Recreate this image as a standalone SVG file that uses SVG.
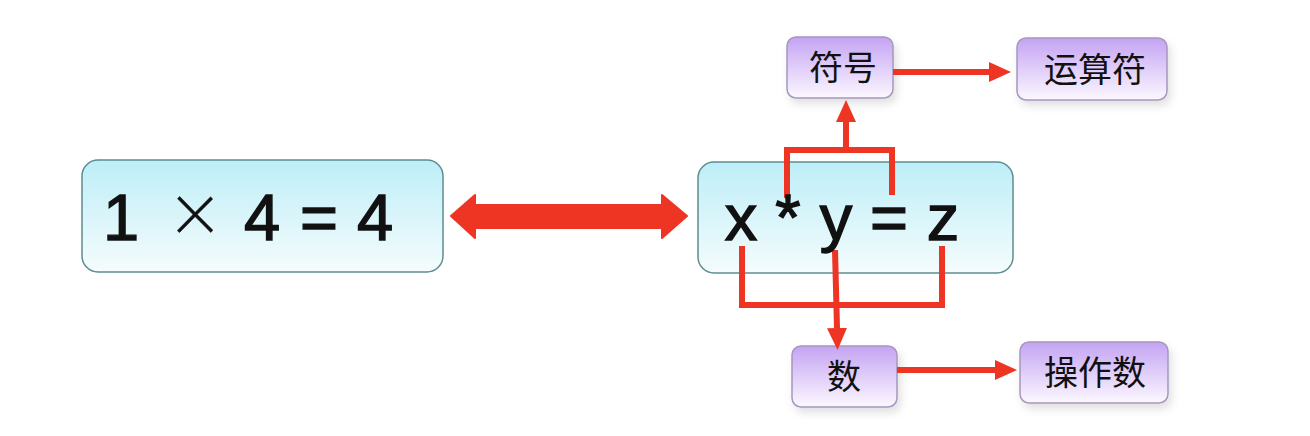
<svg xmlns="http://www.w3.org/2000/svg" width="1310" height="436" viewBox="0 0 1310 436">
  <style>
    .eq { font-family: "Liberation Sans", Arial, sans-serif; font-size: 65px; fill: #111; stroke: #111; stroke-width: 1.4; text-anchor: middle; }
    .times { font-family: Lato, "Liberation Sans", sans-serif; font-weight: 300; font-size: 84px; stroke-width: 0.3; }
    .cjk { font-family: "Noto Sans CJK SC", "Liberation Sans", sans-serif; font-size: 34px; fill: #111; text-anchor: middle; }
    .main { fill: url(#gCyan); stroke: #5d8d90; stroke-width: 1.5; }
    .small { fill: url(#gPurple); stroke: #a597bd; stroke-width: 1.5; filter: url(#sh); }
    .wire { fill: none; stroke: #ee3524; stroke-width: 6; }
    .arr { fill: none; stroke: #ee3524; stroke-width: 6; marker-end: url(#head); }
  </style>
  <defs>
    <linearGradient id="gCyan" x1="0" y1="0" x2="0" y2="1">
      <stop offset="0" stop-color="#bdeef7"/>
      <stop offset="1" stop-color="#f5fcfd"/>
    </linearGradient>
    <linearGradient id="gPurple" x1="0" y1="0" x2="0" y2="1">
      <stop offset="0" stop-color="#c4a3f3"/>
      <stop offset="1" stop-color="#fcf8ff"/>
    </linearGradient>
    <filter id="sh" x="-20%" y="-20%" width="150%" height="160%">
      <feDropShadow dx="3" dy="5" stdDeviation="4" flood-color="#000" flood-opacity="0.12"/>
    </filter>
    <marker id="head" markerUnits="userSpaceOnUse" markerWidth="24" markerHeight="22" refX="0" refY="11" orient="auto">
      <path d="M0,1 L22,11 L0,21 z" fill="#ee3524"/>
    </marker>
  </defs>

  <rect width="1310" height="436" fill="#ffffff"/>

  <g id="node-left">
    <rect class="main" x="82" y="160" width="361" height="112" rx="16"/>
    <text class="eq" x="121 158" y="240">1 <tspan class="times" x="195" y="243">×</tspan><tspan x="228 262 290 319 347 375" y="240"> 4 = 4</tspan></text>
  </g>

  <g id="node-right">
    <rect class="main" x="698" y="162" width="315" height="111" rx="16"/>
  </g>

  <g id="node-fuhao">
    <rect class="small" x="787" y="37" width="106" height="61" rx="9"/>
    <text class="cjk" x="843" y="80">符号</text>
  </g>
  <g id="node-yunsuanfu">
    <rect class="small" x="1017" y="38" width="150" height="62" rx="9"/>
    <text class="cjk" x="1095" y="82">运算符</text>
  </g>
  <g id="node-shu">
    <rect class="small" x="792" y="346" width="105" height="61" rx="9"/>
    <text class="cjk" x="844" y="389">数</text>
  </g>
  <g id="node-caozuoshu">
    <rect class="small" x="1020" y="342" width="148" height="61" rx="9"/>
    <text class="cjk" x="1095" y="385">操作数</text>
  </g>

  <g id="connectors">
    <polygon points="451,216 475,195 475,205 662,205 662,195 687,216 662,238 662,228 475,228 475,238" fill="#ee3524" stroke="#ee3524" stroke-width="2" stroke-linejoin="round"/>
    <path class="wire" d="M787,198 V150 H892 V195"/>
    <path class="arr" d="M846,150 V122"/>
    <path class="wire" d="M742,246 V305 H942 V246"/>
    <path class="arr" d="M835,250 L837,328"/>
    <path class="arr" d="M893,72 H989"/>
    <path class="arr" d="M897,370 H995"/>
  </g>

  <g id="node-right-text">
    <text class="eq" x="741 765 788 812 836 862 889 916 943" y="240">x * y = z</text>
  </g>
</svg>
